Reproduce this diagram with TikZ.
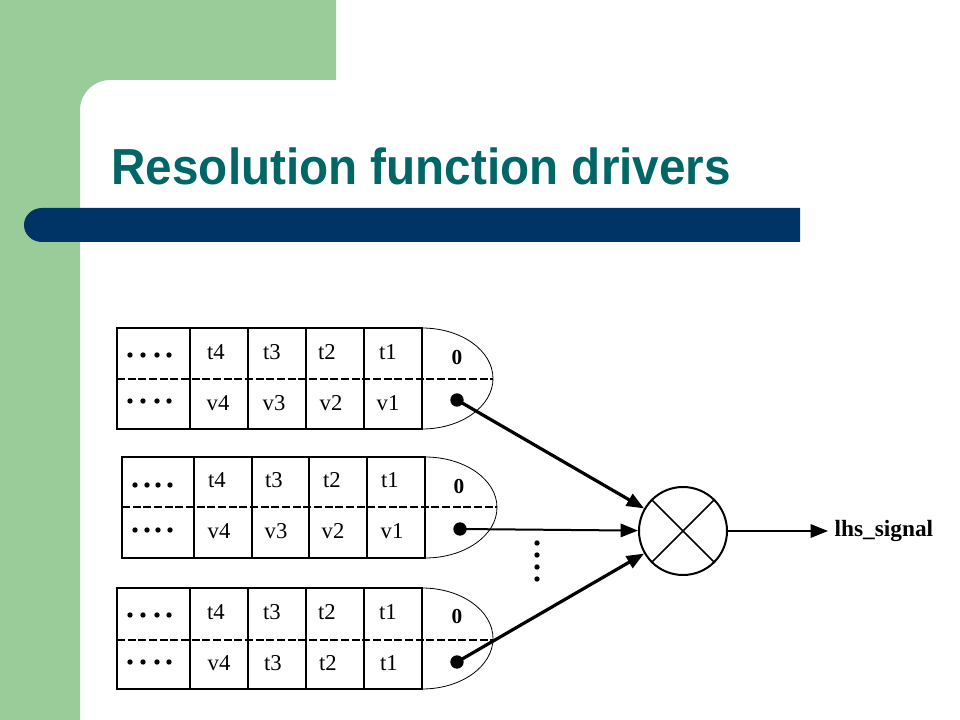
\documentclass[tikz,border=0pt]{standalone}
\usepackage{fontspec}
\setmainfont{Liberation Serif}
\newfontfamily\titlefont{Liberation Sans}[FakeStretch=0.94]
\usetikzlibrary{arrows.meta}
\definecolor{slidegreen}{RGB}{153,204,153}
\definecolor{titleteal}{RGB}{0,102,102}
\definecolor{barblue}{RGB}{0,51,102}
\tikzset{every picture/.style={line width=0.9pt}}
\tikzset{
  cell/.style={inner sep=0.75pt, font=\fontsize{17}{19}\selectfont},
  zero/.style={inner sep=0.75pt, font=\bfseries\fontsize{16}{19}\selectfont},
  tap/.style={circle, fill, inner sep=0pt, minimum size=10pt},
  split/.style={dash pattern=on 6pt off 2pt, line width=1.5pt},
  rim/.style={line width=0.6pt},
  feed/.style={line width=2.4pt, -{Triangle[length=13pt,width=10pt]}},
}

\begin{document}
\begin{tikzpicture}[x=0.75pt,y=0.75pt,yscale=-1]
\useasboundingbox (0,0) rectangle (960,720);
% slide background
\fill[white] (0,0) rectangle (960,720);
\fill[slidegreen] (0,0) -- (336,0) -- (336,80) -- (110,80) arc[start angle=-90, end angle=-180, radius=30] -- (80,720) -- (0,720) -- cycle;
\fill[barblue] (800,208) -- (42,208) arc[start angle=-90, end angle=-270, x radius=18, y radius=17] -- (800,242) -- cycle;
\node (title) [anchor=base west, inner sep=0pt, text=titleteal, font=\titlefont\bfseries\fontsize{38}{44}\selectfont] at (111,185) {Resolution function drivers};

% driver 1
\draw (117,328) rectangle (422,429);
\draw (190,328) -- (190,429);
\draw (248,328) -- (248,429);
\draw (306,328) -- (306,429);
\draw (364,328) -- (364,429);
\draw [rim] (422,328) arc[start angle=-90, end angle=90, x radius=71, y radius=50.5];
\draw [split] (117,379) -- (493,379);
\fill (130,355) circle[radius=2.7] (143,355) circle[radius=2.7] (157,355) circle[radius=2.7] (169,355) circle[radius=2.7];
\fill (130,401) circle[radius=2.7] (143,401) circle[radius=2.7] (157,401) circle[radius=2.7] (169,401) circle[radius=2.7];
\node (at4) [cell] at (216,352) {t4};
\node (at3) [cell] at (272,352) {t3};
\node (at2) [cell] at (327,352) {t2};
\node (at1) [cell] at (388,352) {t1};
\node (av4) [cell] at (218,403) {v4};
\node (av3) [cell] at (274,403) {v3};
\node (av2) [cell] at (331,403) {v2};
\node (av1) [cell] at (388,403) {v1};
\node (azero) [zero] at (457,358) {0};
\node (d1) [tap] at (457,400) {};

% driver 2
\draw (122,457) rectangle (425,558);
\draw (194,457) -- (194,558);
\draw (252,457) -- (252,558);
\draw (309,457) -- (309,558);
\draw (367,457) -- (367,558);
\draw [rim] (425,457) arc[start angle=-90, end angle=90, x radius=72, y radius=50.5];
\draw [split] (122,507) -- (497,507);
\fill (135,485) circle[radius=2.7] (147,485) circle[radius=2.7] (158,485) circle[radius=2.7] (170,485) circle[radius=2.7];
\fill (135,530) circle[radius=2.7] (147,530) circle[radius=2.7] (158,530) circle[radius=2.7] (170,530) circle[radius=2.7];
\node (bt4) [cell] at (217,480) {t4};
\node (bt3) [cell] at (274,480) {t3};
\node (bt2) [cell] at (332,480) {t2};
\node (bt1) [cell] at (390,480) {t1};
\node (bv4) [cell] at (219,531) {v4};
\node (bv3) [cell] at (276,531) {v3};
\node (bv2) [cell] at (333,531) {v2};
\node (bv1) [cell] at (392,531) {v1};
\node (bzero) [zero] at (459,487) {0};
\node (d2) [tap] at (460,529) {};

% driver 3
\draw (117,588) rectangle (422,689);
\draw (190,588) -- (190,689);
\draw (248,588) -- (248,689);
\draw (306,588) -- (306,689);
\draw (364,588) -- (364,689);
\draw [rim] (422,588) arc[start angle=-90, end angle=90, x radius=71, y radius=50.5];
\draw [split] (117,640) -- (493,640);
\fill (130,615) circle[radius=2.7] (143,615) circle[radius=2.7] (157,615) circle[radius=2.7] (169,615) circle[radius=2.7];
\fill (130,662) circle[radius=2.7] (143,662) circle[radius=2.7] (157,662) circle[radius=2.7] (169,662) circle[radius=2.7];
\node (ct4) [cell] at (216,612) {t4};
\node (ct3) [cell] at (272,612) {t3};
\node (ct2) [cell] at (327,612) {t2};
\node (ct1) [cell] at (388,612) {t1};
\node (cv4) [cell] at (219,663) {v4};
\node (cv3) [cell] at (273,663) {t3};
\node (cv2) [cell] at (328,663) {t2};
\node (cv1) [cell] at (389,663) {t1};
\node (czero) [zero] at (457,617) {0};
\node (d3) [tap] at (457,662) {};

% resolution function
\node (res) [circle, draw, line width=1.5pt, minimum size=66pt, inner sep=0pt] at (683,531) {};
\draw [line width=1.1pt] (res.north west) -- (res.south east);
\draw [line width=1.1pt] (res.north east) -- (res.south west);
\fill (537,543) circle[radius=2.7] (537,555) circle[radius=2.7] (537,567) circle[radius=2.7] (537,579) circle[radius=2.7];
\node (lhs) [anchor=west, inner sep=4.5pt, font=\bfseries\fontsize{17.5}{20}\selectfont] at (828,531) {lhs\_signal};

\draw [feed] (d1.center) -- (res);
\draw [feed, line width=1.5pt] (d2.center) -- (res);
\draw [feed] (d3.center) -- (res);
\draw [feed, line width=1.5pt] (res) -- (lhs);
\end{tikzpicture}
\end{document}
